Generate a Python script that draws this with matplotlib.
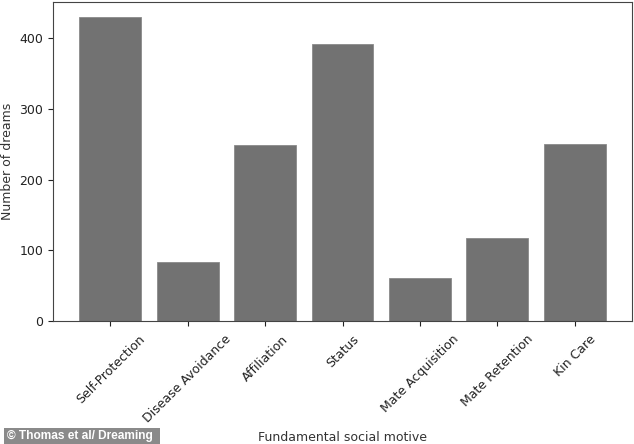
import matplotlib
matplotlib.use("Agg")
import matplotlib.pyplot as plt
import matplotlib.patches as patches

# dream counts per fundamental social motive
motives = ["Self-Protection", "Disease Avoidance", "Affiliation", "Status",
           "Mate Acquisition", "Mate Retention", "Kin Care"]
counts = [430, 83, 249, 392, 61, 118, 251]

plt.rcParams["font.family"] = ["DejaVu Sans"]
plt.rcParams["font.size"] = 9

fig = plt.figure(figsize=(6.34, 4.44), dpi=100)
ax = fig.add_axes([53 / 634, 1 - 321 / 444, 579 / 634, 319 / 444])

ax.bar(motives, counts, width=0.8, color="#727272", edgecolor="#8a8a8a", linewidth=0.6)
ax.set_xticks(range(len(motives)))
ax.set_xticklabels(motives, rotation=45)
ax.set_yticks([0, 100, 200, 300, 400])
ax.tick_params(axis="x", pad=5)
ax.set_ylabel("Number of dreams", color="#333333")
ax.set_xlabel("Fundamental social motive", color="#333333")
ax.xaxis.set_label_coords(0.5, -0.345)
ax.yaxis.set_label_coords(-0.068, 0.5)
ax.tick_params(colors="#222222")
for s in ax.spines.values():
    s.set_color("#444444")

# watermark in the bottom left corner
fig.patches.append(patches.Rectangle((4 / 634, 0), 156 / 634, 16 / 444,
                                     transform=fig.transFigure,
                                     facecolor="#8a8a8a", edgecolor="none"))
fig.text(7 / 634, 8 / 444, "\u00a9 Thomas et al/ Dreaming", color="white",
         fontsize=8.6, fontweight="bold", va="center", ha="left",
         family=["Liberation Sans Narrow", "Liberation Sans", "DejaVu Sans"])

fig.savefig("out.png", dpi=100)
